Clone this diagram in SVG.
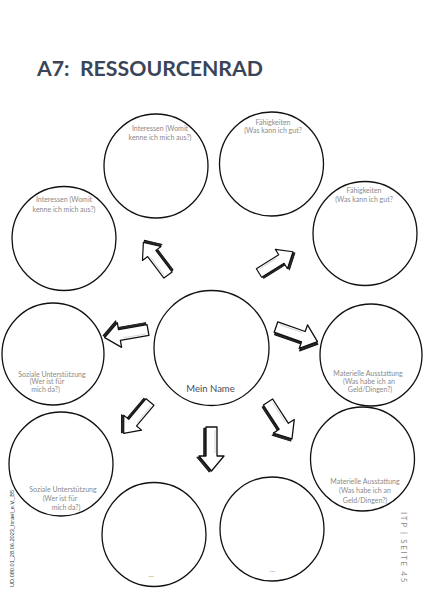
<svg xmlns="http://www.w3.org/2000/svg" xmlns:xlink="http://www.w3.org/1999/xlink" width="423" height="599" viewBox="0 0 423 599">
<style>
.c{fill:#fff;stroke:#111;stroke-width:1.3}
.t{font-family:Lato,"Open Sans","Liberation Sans",sans-serif;font-size:7px;fill:#8a8a8a;text-anchor:middle}
.n{font-family:Lato,"Open Sans","Liberation Sans",sans-serif;font-size:9.5px;fill:#454d5e;text-anchor:middle}
.title{font-family:Lato,"Open Sans","Liberation Sans",sans-serif;font-weight:bold;font-size:20px;fill:#3b4559;white-space:pre}
.side{font-family:"Liberation Sans",Arial,sans-serif;font-size:5.6px;fill:#333}
.pg{font-family:Lato,"Open Sans","Liberation Sans",sans-serif;font-size:8px;fill:#8a8a8a;letter-spacing:1.6px}
</style>
<defs>
<g id="arrow">
<polygon points="0,-5.5 29,-5.5 29,-12.5 44,0 29,12.5 29,5.5 0,5.5" transform="translate(1.2,2.2)" fill="#2a2a2a" stroke="#111" stroke-width="1" stroke-linejoin="round"/>
<polygon points="0,-5.5 29,-5.5 29,-12.5 44,0 29,12.5 29,5.5 0,5.5" fill="#fff" stroke="#111" stroke-width="1.3" stroke-linejoin="round"/>
<path d="M3,-3.5 L26,-3.5" stroke="#bbb" stroke-width="0.6" fill="none"/>
</g>
</defs>
<rect width="423" height="599" fill="#fff"/>
<text class="title" x="37" y="76" textLength="226" lengthAdjust="spacingAndGlyphs">A7:  RESSOURCENRAD</text>

<g id="connectors">
<use xlink:href="#arrow" transform="translate(168,275) rotate(-127) scale(0.93)"/>
<use xlink:href="#arrow" transform="translate(259,273) rotate(-32) scale(0.91)"/>
<use xlink:href="#arrow" transform="translate(148,330) rotate(170)"/>
<use xlink:href="#arrow" transform="translate(276,327) rotate(19.5)"/>
<use xlink:href="#arrow" transform="translate(150,402) rotate(130) scale(0.93)"/>
<use xlink:href="#arrow" transform="translate(268,402) rotate(57)"/>
<use xlink:href="#arrow" transform="translate(211.5,427) rotate(90)"/>
</g>

<g id="node-interessen-1">
<circle class="c" cx="156" cy="166" r="52"/>
<text class="t" x="160" y="131">Interessen (Womit</text>
<text class="t" x="160" y="139.5">kenne ich mich aus?)</text>
</g>
<g id="node-faehigkeiten-1">
<circle class="c" cx="271.5" cy="164" r="52"/>
<text class="t" x="273" y="124.5">Fähigkeiten</text>
<text class="t" x="273" y="133">(Was kann ich gut?</text>
</g>
<g id="node-interessen-2">
<circle class="c" cx="64" cy="238.5" r="52"/>
<text class="t" x="64" y="202">Interessen (Womit</text>
<text class="t" x="64" y="212">kenne ich mich aus?)</text>
</g>
<g id="node-faehigkeiten-2">
<circle class="c" cx="365" cy="233.5" r="52"/>
<text class="t" x="364" y="193">Fähigkeiten</text>
<text class="t" x="364" y="201.5">(Was kann ich gut?</text>
</g>
<g id="node-mein-name">
<circle class="c" cx="211.5" cy="348" r="57.5"/>
<text class="n" x="210.5" y="392">Mein Name</text>
</g>
<g id="node-soziale-1">
<circle class="c" cx="53" cy="354" r="51"/>
<text class="t" x="52" y="376.5">Soziale Unterstützung</text>
<text class="t" x="47" y="384">(Wer ist für</text>
<text class="t" x="45.5" y="391.5">mich da?)</text>
</g>
<g id="node-materielle-1">
<circle class="c" cx="371" cy="355" r="51"/>
<text class="t" x="368" y="376">Materielle Ausstattung</text>
<text class="t" x="369" y="384">(Was habe ich an</text>
<text class="t" x="370" y="392">Geld/Dingen?)</text>
</g>
<g id="node-soziale-2">
<circle class="c" cx="61" cy="464" r="52"/>
<text class="t" x="63" y="491.5">Soziale Unterstützung</text>
<text class="t" x="60" y="500.5">(Wer ist für</text>
<text class="t" x="66" y="510">mich da?)</text>
</g>
<g id="node-materielle-2">
<circle class="c" cx="362.5" cy="459" r="52"/>
<text class="t" x="365" y="483.5">Materielle Ausstattung</text>
<text class="t" x="365" y="493">(Was habe ich an</text>
<text class="t" x="365" y="502.5">Geld/Dingen?)</text>
</g>
<g id="node-empty-1">
<circle class="c" cx="154" cy="534.5" r="52"/>
<text class="t" x="151" y="577">…</text>
</g>
<g id="node-empty-2">
<circle class="c" cx="272" cy="529" r="52"/>
<text class="t" x="272" y="572">…</text>
</g>

<text class="side" transform="translate(14,587) rotate(-90)">UD.080.01_28.06.2023_Israel_e.V._B5</text>
<text class="pg" transform="translate(401,512) rotate(90)">ITP | SEITE 45</text>
</svg>
